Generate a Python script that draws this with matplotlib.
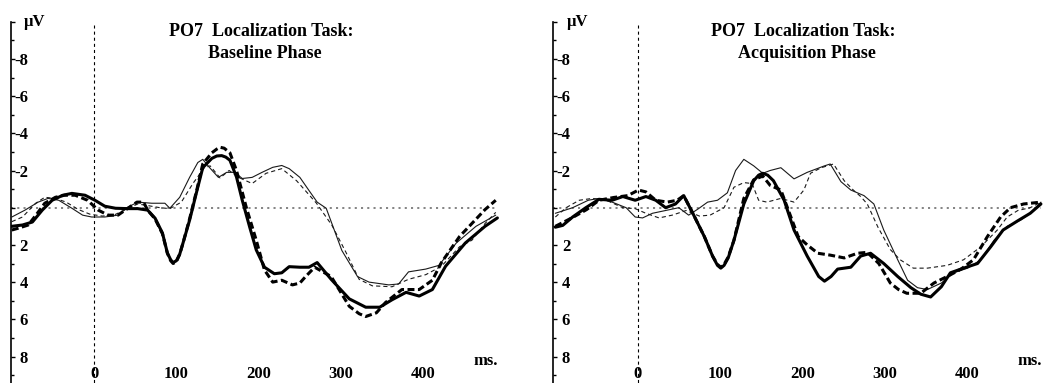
import matplotlib
matplotlib.use("Agg")
import matplotlib.pyplot as plt
from matplotlib.ticker import FixedLocator

plt.rcParams["font.family"] = ["Liberation Serif", "DejaVu Serif"]
plt.rcParams["font.weight"] = "bold"
plt.rcParams["lines.scale_dashes"] = False

# ---- PO7 grand averages, Baseline phase (ms, µV; negative plotted up) ----
base_thick_solid_t = [-100, -87, -75, -63, -51, -38, -27, -11, 1, 13, 26, 41, 53, 65, 74, 83,
                      89, 93, 96, 100, 104, 108, 116, 125, 132, 143, 149, 155, 160, 165, 173,
                      180, 189, 197, 207, 219, 228, 237, 250, 261, 271, 288, 310, 330, 347,
                      362, 379, 395, 411, 427, 451, 475, 490]
base_thick_solid_uv = [1.0, 0.93, 0.77, 0.13, -0.4, -0.67, -0.77, -0.67, -0.4, -0.08, 0.03,
                       0.05, 0.05, 0.13, 0.56, 1.36, 2.43, 2.8, 2.95, 2.85, 2.5, 1.9, 0.67,
                       -0.93, -2.15, -2.65, -2.78, -2.8, -2.72, -2.55, -1.65, -0.4, 1.04,
                       2.27, 3.2, 3.55, 3.5, 3.17, 3.2, 3.2, 2.95, 3.85, 4.9, 5.35, 5.35,
                       4.95, 4.55, 4.75, 4.4, 3.15, 1.9, 1.0, 0.55]

base_thick_dashed_t = [-100, -92, -80, -69, -60, -47, -36, -23, -8, 5, 17, 29, 41, 52, 60, 65,
                       74, 83, 89, 93, 96, 100, 104, 108, 116, 125, 132, 143, 149, 153, 158,
                       165, 173, 185, 197, 207, 217, 228, 241, 250, 257, 268, 288, 310, 322,
                       330, 343, 354, 374, 395, 411, 422, 444, 459, 475, 488]
base_thick_dashed_uv = [1.2, 1.1, 0.93, 0.3, -0.24, -0.56, -0.67, -0.67, -0.4, 0.13, 0.4, 0.4,
                        0.03, -0.3, -0.3, 0.13, 0.6, 1.4, 2.45, 2.85, 3.0, 2.9, 2.5, 1.9, 0.6,
                        -1.0, -2.35, -2.95, -3.15, -3.25, -3.2, -2.95, -2.0, 0.0, 1.75, 3.35,
                        4.0, 3.9, 4.15, 4.05, 3.7, 3.2, 3.7, 5.3, 5.7, 5.85, 5.65, 5.1, 4.4,
                        4.4, 3.9, 2.95, 1.55, 0.85, 0.1, -0.4]

base_thin_solid_t = [-100, -84, -68, -56, -43, -27, -14, -3, 13, 29, 41, 53, 70, 86, 92, 104,
                     116, 126, 132, 140, 151, 161, 171, 180, 192, 204, 217, 228, 237, 250,
                     261, 271, 282, 301, 320, 334, 358, 370, 382, 403, 419, 440, 464, 488]
base_thin_solid_uv = [0.5, 0.13, -0.3, -0.5, -0.4, 0.03, 0.4, 0.5, 0.5, 0.4, -0.03, -0.3,
                      -0.24, -0.24, 0.03, -0.56, -1.63, -2.43, -2.6, -2.17, -1.63, -1.9, -1.9,
                      -1.57, -1.63, -1.9, -2.17, -2.27, -2.1, -1.63, -0.93, -0.3, 0.03, 2.3,
                      3.7, 4.0, 4.15, 4.1, 3.45, 3.3, 3.1, 1.9, 1.0, 0.4]

base_thin_dashed_t = [-100, -87, -71, -60, -47, -34, -19, -5, 10, 24, 38, 53, 67, 80, 92, 106,
                      120, 134, 141, 153, 164, 177, 192, 209, 228, 246, 265, 270, 289, 306,
                      322, 338, 362, 382, 403, 422, 444, 459, 475, 488]
base_thin_dashed_uv = [0.75, 0.5, -0.24, -0.56, -0.5, -0.3, 0.1, 0.35, 0.45, 0.4, 0.1, -0.2,
                       -0.1, 0.0, 0.05, -0.3, -1.3, -2.15, -2.25, -1.6, -2.0, -1.6, -1.3,
                       -1.85, -2.1, -1.45, -0.5, -0.25, 0.95, 2.4, 3.85, 4.2, 4.25, 3.85, 3.6,
                       3.15, 2.1, 1.75, 0.85, 0.25]

# ---- PO7 grand averages, Acquisition phase ----
acq_thick_solid_t = [-100, -91, -79, -63, -47, -31, -18, -3, 10, 22, 34, 46, 56, 67, 81, 91,
                     97, 101, 105, 110, 117, 129, 141, 147, 152, 158, 165, 178, 190, 206, 220,
                     227, 235, 243, 259, 271, 283, 299, 316, 332, 344, 356, 369, 380, 396,
                     413, 429, 444, 462, 477, 490]
acq_thick_solid_uv = [1.05, 0.95, 0.5, 0.0, -0.45, -0.4, -0.6, -0.4, -0.6, -0.4, 0.0, -0.2,
                      -0.65, 0.3, 1.55, 2.6, 3.1, 3.25, 3.1, 2.7, 1.75, -0.2, -1.45, -1.75,
                      -1.85, -1.75, -1.45, -0.4, 1.2, 2.6, 3.7, 3.95, 3.7, 3.3, 3.2, 2.6,
                      2.45, 3.0, 3.7, 4.3, 4.65, 4.8, 4.25, 3.5, 3.25, 3.0, 2.1, 1.2, 0.7,
                      0.3, -0.2]

acq_thick_dashed_t = [-100, -91, -78, -62, -47, -29, -12, 1, 10, 22, 36, 48, 56, 67, 81, 91,
                      97, 101, 105, 110, 117, 129, 141, 152, 161, 174, 182, 195, 206, 219,
                      234, 251, 267, 279, 293, 307, 317, 327, 344, 360, 376, 393, 408, 425,
                      441, 453, 469, 490]
acq_thick_dashed_uv = [1.0, 0.8, 0.5, 0.1, -0.4, -0.55, -0.65, -0.95, -0.85, -0.4, -0.3, -0.4,
                       -0.65, 0.3, 1.55, 2.6, 3.05, 3.2, 3.05, 2.65, 1.75, -0.5, -1.5, -1.7,
                       -1.2, -0.95, 0.0, 1.55, 2.0, 2.45, 2.55, 2.7, 2.45, 2.4, 3.0, 4.05,
                       4.4, 4.6, 4.6, 4.05, 3.7, 3.3, 2.8, 1.55, 0.5, 0.0, -0.2, -0.3]

acq_thin_solid_t = [-100, -79, -60, -47, -31, -14, -3, 6, 18, 34, 50, 62, 74, 85, 97, 109,
                    119, 129, 141, 152, 161, 174, 190, 206, 227, 234, 247, 259, 275, 287, 299,
                    316, 328, 340, 352, 369, 384, 401, 417, 433, 449, 466, 477, 490]
acq_thin_solid_uv = [0.3, 0.0, -0.4, -0.5, -0.3, 0.0, 0.5, 0.55, 0.3, 0.15, 0.0, 0.4, 0.05,
                     -0.3, -0.4, -0.8, -2.0, -2.6, -2.25, -1.85, -2.0, -2.15, -1.55, -1.9,
                     -2.25, -2.35, -1.4, -0.95, -0.65, -0.2, 1.2, 2.8, 3.9, 4.3, 4.4, 4.05,
                     3.5, 3.25, 2.8, 1.75, 1.0, 0.65, 0.3, -0.3]

acq_thin_dashed_t = [-100, -87, -71, -55, -38, -18, -3, 10, 26, 42, 59, 75, 88, 105, 117, 129,
                     139, 147, 157, 174, 190, 202, 210, 223, 238, 251, 262, 271, 279, 292,
                     307, 319, 335, 352, 376, 396, 417, 437, 449, 462, 477, 490]
acq_thin_dashed_uv = [0.5, 0.0, -0.4, -0.5, -0.4, 0.0, 0.05, 0.3, 0.55, 0.4, 0.15, 0.45, 0.4,
                      0.0, -1.1, -1.35, -1.3, -0.4, -0.3, -0.5, -0.3, -0.95, -1.85, -2.15,
                      -2.35, -1.45, -0.95, -0.6, -0.2, 1.05, 2.25, 2.8, 3.25, 3.25, 3.1, 2.8,
                      2.1, 1.2, 0.5, 0.15, 0.0, -0.3]

uv_ticks = [-10, -8, -6, -4, -2, 0, 2, 4, 6, 8]
uv_tick_labels = ["", "-8", "-6", "-4", "-2", "", "2", "4", "6", "8"]
ms_ticks = [0, 100, 200, 300, 400]

STYLES = {
    "thin_solid": dict(color="#1a1a1a", lw=0.8, zorder=3),
    "thin_dashed": dict(color="#1a1a1a", lw=0.8, dashes=(3.0, 2.2), zorder=3),
    "thick_solid": dict(color="black", lw=2.2, zorder=4),
    "thick_dashed": dict(color="black", lw=2.2, dashes=(5.0, 2.5), zorder=4),
}

W, H = 1043, 383
PX_PER_MS = 0.823
PX_PER_UV = 18.6
TOP_PX = 21.7  # pixel row of -10 µV


def draw_panel(fig, left_px, x0, series, title, subtitle):
    x1 = 494
    width_px = (x1 - x0) * PX_PER_MS
    ymin, ymax = 9.49, -10
    height_px = (ymin - ymax) * PX_PER_UV
    ax = fig.add_axes([left_px / W, (H - TOP_PX - height_px) / H, width_px / W, height_px / H])
    ax.set_xlim(x0, x1)
    ax.set_ylim(ymin, ymax)
    ax.patch.set_alpha(0)
    for s in ("top", "right", "bottom"):
        ax.spines[s].set_visible(False)
    ax.spines["left"].set_linewidth(1.2)

    # reference lines: baseline (dotted grey) and stimulus onset (dashed black)
    ax.plot([x0, 490], [0, 0], color="#7a7a7a", lw=1.3, dashes=(1.5, 3.0), zorder=1)
    ax.plot([0, 0], [-9.8, 9.49], color="black", lw=0.8, dashes=(2.2, 2.2), zorder=1)

    for t, uv, style in series:
        ax.plot(t, uv, solid_capstyle="round", solid_joinstyle="round",
                dash_joinstyle="round", **STYLES[style])

    ax.yaxis.set_major_locator(FixedLocator(uv_ticks))
    ax.set_yticklabels(uv_tick_labels)
    ax.yaxis.set_minor_locator(FixedLocator(list(range(-9, 10, 2))))
    ax.tick_params(axis="y", which="major", direction="in", length=3, width=1.0,
                   pad=-12.2, labelsize=12)
    ax.tick_params(axis="y", which="minor", direction="in", length=2, width=1.0)

    ax.set_xticks(ms_ticks)
    ax.set_xticklabels([str(v) for v in ms_ticks])
    ax.tick_params(axis="x", length=0, pad=-13, labelsize=12)

    ax.text(476, 8.25, "ms.", ha="center", va="center", fontsize=12)

    cx = left_px + 250
    fig.text(cx / W, 1 - 31 / H, title, ha="center", va="center", fontsize=13)
    fig.text((cx + 4) / W, 1 - 54 / H, subtitle, ha="center", va="center", fontsize=13)
    fig.text((left_px + 24) / W, 1 - 22 / H, "µV", ha="center", va="center", fontsize=12)
    return ax


fig = plt.figure(figsize=(W / 100, H / 100), dpi=100)

draw_panel(fig, 11, -101, [
    (base_thin_solid_t, base_thin_solid_uv, "thin_solid"),
    (base_thin_dashed_t, base_thin_dashed_uv, "thin_dashed"),
    (base_thick_solid_t, base_thick_solid_uv, "thick_solid"),
    (base_thick_dashed_t, base_thick_dashed_uv, "thick_dashed"),
], "PO7  Localization Task:", "Baseline Phase")

draw_panel(fig, 553.3, -102.5, [
    (acq_thin_solid_t, acq_thin_solid_uv, "thin_solid"),
    (acq_thin_dashed_t, acq_thin_dashed_uv, "thin_dashed"),
    (acq_thick_solid_t, acq_thick_solid_uv, "thick_solid"),
    (acq_thick_dashed_t, acq_thick_dashed_uv, "thick_dashed"),
], "PO7  Localization Task:", "Acquisition Phase")

fig.savefig("out.png", dpi=100)
